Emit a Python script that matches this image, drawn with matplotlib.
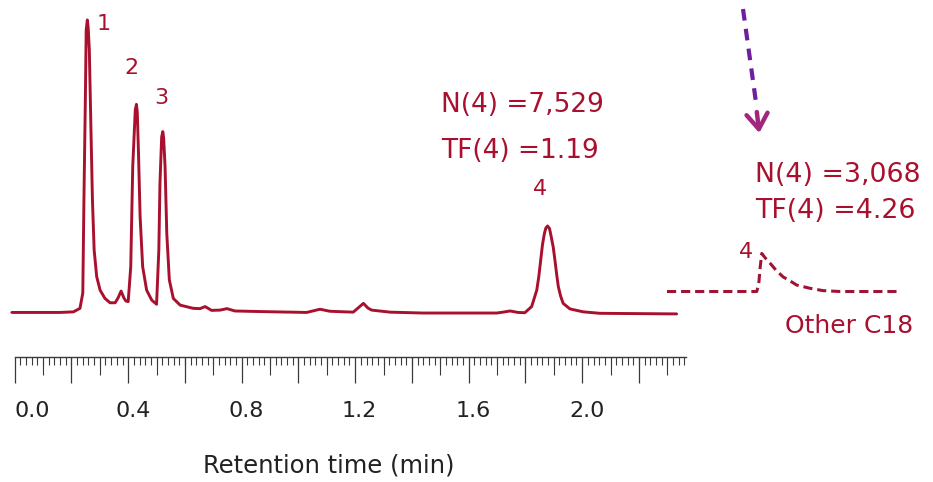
import numpy as np
import matplotlib
matplotlib.use('Agg')
import matplotlib.pyplot as plt
from matplotlib.lines import Line2D
from matplotlib.transforms import ScaledTranslation

# chromatogram (time in min, signal in relative units, peak 1 = 100)
time_min = [-0.010, 0.160, 0.207, 0.230, 0.240, 0.244, 0.249, 0.252, 0.256, 0.259,
            0.263, 0.269, 0.274, 0.280, 0.289, 0.301, 0.318, 0.336, 0.354, 0.364,
            0.375, 0.385, 0.392, 0.400, 0.409, 0.416, 0.425, 0.429, 0.432, 0.436,
            0.442, 0.451, 0.465, 0.483, 0.500, 0.508, 0.512, 0.518, 0.522, 0.525,
            0.530, 0.536, 0.545, 0.559, 0.583, 0.629, 0.653, 0.671, 0.694, 0.724,
            0.748, 0.776, 0.865, 1.029, 1.076, 1.111, 1.193, 1.210, 1.229, 1.245,
            1.258, 1.323, 1.439, 1.699, 1.721, 1.746, 1.774, 1.798, 1.822, 1.840,
            1.847, 1.854, 1.860, 1.867, 1.872, 1.878, 1.885, 1.891, 1.898, 1.904,
            1.910, 1.916, 1.924, 1.933, 1.957, 2.004, 2.063, 2.333]
signal = [0.2, 0.2, 0.4, 1.6, 6.8, 38.6, 72.7, 96.6, 100.0, 97.3,
          89.8, 61.4, 38.6, 21.5, 12.4, 7.8, 5.0, 3.5, 3.5, 5.1,
          7.5, 5.1, 4.1, 3.9, 15.8, 49.9, 69.3, 71.2, 68.6, 55.6,
          32.9, 15.8, 7.8, 4.4, 3.0, 21.5, 44.3, 60.1, 61.9, 59.7,
          49.9, 27.2, 11.3, 5.0, 2.7, 1.6, 1.5, 2.2, 0.9, 1.0,
          1.5, 0.7, 0.5, 0.2, 1.3, 0.6, 0.3, 1.7, 3.3, 1.7,
          1.0, 0.3, 0.0, 0.0, 0.3, 0.7, 0.2, 0.1, 2.2, 7.8,
          12.3, 18.1, 23.2, 27.2, 29.0, 29.7, 28.8, 26.0, 22.5, 18.1,
          13.3, 9.0, 5.8, 3.3, 1.4, 0.4, -0.1, -0.3]

# other C18 column, peak 4 region (same units)
other_time = [0.000, 0.316, 0.323, 0.328, 0.334, 0.345, 0.363, 0.384, 0.409, 0.434,
              0.457, 0.504, 0.550, 0.610, 0.821]
other_signal = [0.0, 0.0, 2.2, 8.0, 13.0, 11.6, 9.7, 7.3, 5.0, 3.6,
                2.2, 1.1, 0.3, 0.0, 0.0]

tick_values = [0.0, 0.4, 0.8, 1.2, 1.6, 2.0]
tick_labels = ['0.0', '0.4', '0.8', '1.2', '1.6', '2.0']

RED = '#A8102E'
RULER = '#3a3a3a'
W, H = 933, 482

fig = plt.figure(figsize=(9.33, 4.82), dpi=100)

# main chromatogram + ruler axis
ax = fig.add_axes([14.7 / W, 1 - 356.7 / H, (686 - 14.7) / W, 356.7 / H])
ax.plot(time_min, signal, color=RED, lw=2.1, clip_on=False,
        solid_joinstyle='round', solid_capstyle='round')
ax.set_xlim(0, 2.366)
ax.set_ylim(-14.9, 106.8)
for s in ['top', 'left', 'right']:
    ax.spines[s].set_visible(False)
ax.spines['bottom'].set_color(RULER)
ax.spines['bottom'].set_linewidth(1.0)
ax.set_yticks([])
ax.set_xticks(tick_values, tick_labels)
ax.set_xticks(np.arange(0, 2.37, 0.02), minor=True)
ax.tick_params(axis='x', which='major', direction='out', length=18.7, width=0.9,
               color=RULER, pad=13, labelsize=16, labelcolor='#222222')
ax.tick_params(axis='x', which='minor', direction='out', length=6.1, width=0.8, color=RULER)
for i, lab in enumerate(ax.get_xticklabels()):
    if i == 0:
        lab.set_horizontalalignment('left')
    else:
        lab.set_transform(lab.get_transform() + ScaledTranslation(0.045, 0, fig.dpi_scale_trans))

# remaining long ticks (odd 0.2) and medium ticks (0.1 steps)
sec = ax.secondary_xaxis('bottom')
sec.spines['bottom'].set_visible(False)
sec.set_xticks(np.arange(0.2, 2.3, 0.4), labels=[])
sec.set_xticks(np.arange(0.1, 2.35, 0.2), minor=True)
sec.tick_params(which='major', direction='out', length=18.7, width=0.9, color=RULER)
sec.tick_params(which='minor', direction='out', length=13, width=0.8, color=RULER)

# peak numbers
ax.text(0.315, 98.6, '1', color=RED, fontsize=16, ha='center', va='center')
ax.text(0.410, 83.6, '2', color=RED, fontsize=16, ha='center', va='center')
ax.text(0.516, 73.4, '3', color=RED, fontsize=16, ha='center', va='center')
ax.text(1.853, 42.3, '4', color=RED, fontsize=16, ha='center', va='center')

# other C18 trace
ax_in = fig.add_axes([667 / W, 1 - 300 / H, 233 / W, 60 / H])
ax_in.plot(other_time, other_signal, color='#9E1533', lw=2.2, ls='--',
           dashes=(3.0, 1.6), clip_on=False)
ax_in.set_xlim(0, 0.821)
ax_in.set_ylim(-2.9, 17.6)
ax_in.axis('off')

# annotations
fig.text(440.7 / W, 1 - 111.7 / H, 'N(4) =7,529', color=RED, fontsize=19, va='baseline')
fig.text(440.7 / W, 1 - 158 / H, 'TF(4) =1.19', color=RED, fontsize=19, va='baseline')
fig.text(755 / W, 1 - 182 / H, 'N(4) =3,068', color=RED, fontsize=19.3, va='baseline')
fig.text(755 / W, 1 - 218 / H, 'TF(4) =4.26', color=RED, fontsize=19.3, va='baseline')
fig.text(745.5 / W, 1 - 251.5 / H, '4', color=RED, fontsize=16, ha='center', va='center')
fig.text(785 / W, 1 - 333 / H, 'Other C18', color=RED, fontsize=18, va='baseline')
fig.text(328.5 / W, 1 - 466 / H, 'Retention time (min)', color='#222222', fontsize=17.5,
         ha='center', va='center')

# dashed purple arrow
fig.add_artist(Line2D([743 / W, 756.5 / W], [1 - 9 / H, 1 - 106 / H], color='#6E1F9E',
                      lw=3, ls='--', dashes=(2.8, 2.0), transform=fig.transFigure))
fig.add_artist(plt.Annotation('', xy=(759.3 / W, 1 - 133 / H), xytext=(756.8 / W, 1 - 112 / H),
                              xycoords='figure fraction', textcoords='figure fraction',
                              arrowprops=dict(arrowstyle='->,head_length=0.55,head_width=0.38',
                                              color='#A3267E', lw=3.2, mutation_scale=20,
                                              shrinkA=0, shrinkB=0)))

fig.savefig('out.png', dpi=100)
